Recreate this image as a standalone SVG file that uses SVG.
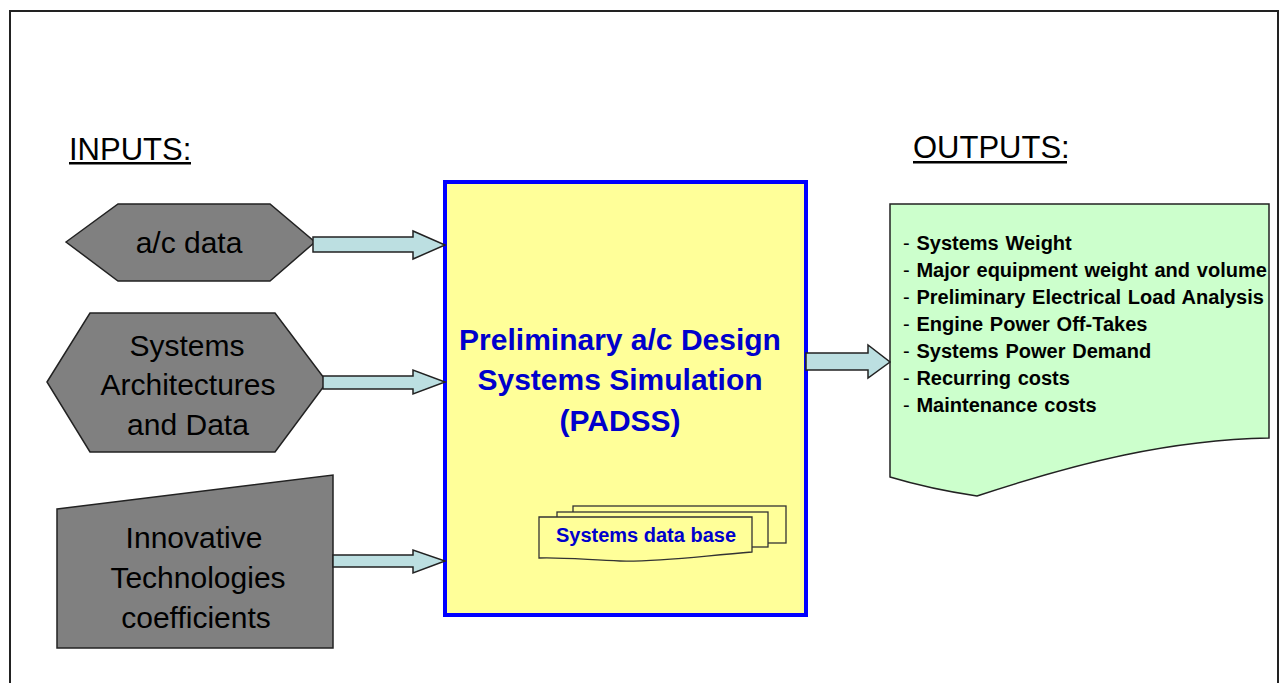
<svg xmlns="http://www.w3.org/2000/svg" width="1280" height="683" viewBox="0 0 1280 683">
<style>
.lbl{font-family:"Liberation Sans",Arial,sans-serif;fill:#000}
.inp{fill:#808080;stroke:#222;stroke-width:1.5}
.arr{fill:#BCDFE1;stroke:#222;stroke-width:1.5;stroke-linejoin:miter}
.hex{font-size:30px;text-anchor:middle}
.out{font-size:20px;font-weight:bold;word-spacing:1.2px}
.blue{font-family:"Liberation Sans",Arial,sans-serif;font-weight:bold;fill:#0000CC}
.doc{fill:#FFFF99;stroke:#333;stroke-width:1.3}
</style>
<rect x="0" y="0" width="1280" height="683" fill="#fff"/>
<rect x="10" y="11" width="1268" height="720" fill="none" stroke="#222" stroke-width="2"/>

<g id="title-inputs">
<text class="lbl" x="69" y="160" font-size="31">INPUTS:</text>
<rect x="69" y="162" width="122" height="2.5" fill="#000"/>
</g>
<g id="title-outputs">
<text class="lbl" x="913" y="158" font-size="31">OUTPUTS:</text>
<rect x="913" y="161" width="154" height="2.5" fill="#000"/>
</g>

<g id="node-acdata">
<polygon class="inp" points="66,242 118,204 270,204 315,242 270,281 118,281"/>
<text class="lbl hex" x="189" y="253">a/c data</text>
</g>

<g id="node-architectures">
<polygon class="inp" points="47,382 90,313 275,313 327,382 275,452 90,452"/>
<text class="lbl hex" x="187" y="356">Systems</text>
<text class="lbl hex" x="188" y="395">Architectures</text>
<text class="lbl hex" x="188" y="435">and Data</text>
</g>

<g id="node-innovative">
<polygon class="inp" points="57,509 333,475 333,648 57,648"/>
<text class="lbl hex" x="194" y="548">Innovative</text>
<text class="lbl hex" x="198" y="588">Technologies</text>
<text class="lbl hex" x="196" y="628">coefficients</text>
</g>

<g id="node-padss">
<rect x="445" y="182" width="361" height="433" fill="#FFFF99" stroke="#0000FF" stroke-width="4"/>
<text class="blue" x="620" y="350" font-size="30" text-anchor="middle">Preliminary a/c Design</text>
<text class="blue" x="620" y="390" font-size="30" text-anchor="middle">Systems Simulation</text>
<text class="blue" x="620" y="431" font-size="30" text-anchor="middle">(PADSS)</text>
</g>

<g id="node-database">
<rect class="doc" x="573" y="506" width="213" height="37"/>
<rect class="doc" x="557" y="512" width="211" height="35"/>
<path class="doc" d="M539,517 L752,517 L752,552 C700,556 660,562 620,561 C590,560 560,557 539,558 Z"/>
<text class="blue" x="646" y="542" font-size="20" text-anchor="middle">Systems data base</text>
</g>

<g id="node-outputs">
<path d="M890,204 L1269,204 L1269,438 C1170,440 1080,462 977,496 Q930,489 890,477 Z" fill="#CCFFCC" stroke="#222" stroke-width="1.5"/>
<g class="lbl out">
<text x="903" y="250"><tspan font-weight="normal">- </tspan>Systems Weight</text>
<text x="903" y="277"><tspan font-weight="normal">- </tspan>Major equipment weight and volume</text>
<text x="903" y="304"><tspan font-weight="normal">- </tspan>Preliminary Electrical Load Analysis</text>
<text x="903" y="331"><tspan font-weight="normal">- </tspan>Engine Power Off-Takes</text>
<text x="903" y="358"><tspan font-weight="normal">- </tspan>Systems Power Demand</text>
<text x="903" y="385"><tspan font-weight="normal">- </tspan>Recurring costs</text>
<text x="903" y="412"><tspan font-weight="normal">- </tspan>Maintenance costs</text>
</g>
</g>

<g id="connectors">
<polygon class="arr" points="313,237 413,237 413,231 445,245 413,259 413,252 313,252"/>
<polygon class="arr" points="323,376 413,376 413,370 445,382 413,394 413,389 323,389"/>
<polygon class="arr" points="333,555 413,555 413,550 445,561 413,573 413,567 333,567"/>
<polygon class="arr" points="806,353 868,353 868,345 890,362 868,378 868,370 806,370"/>
</g>
</svg>
